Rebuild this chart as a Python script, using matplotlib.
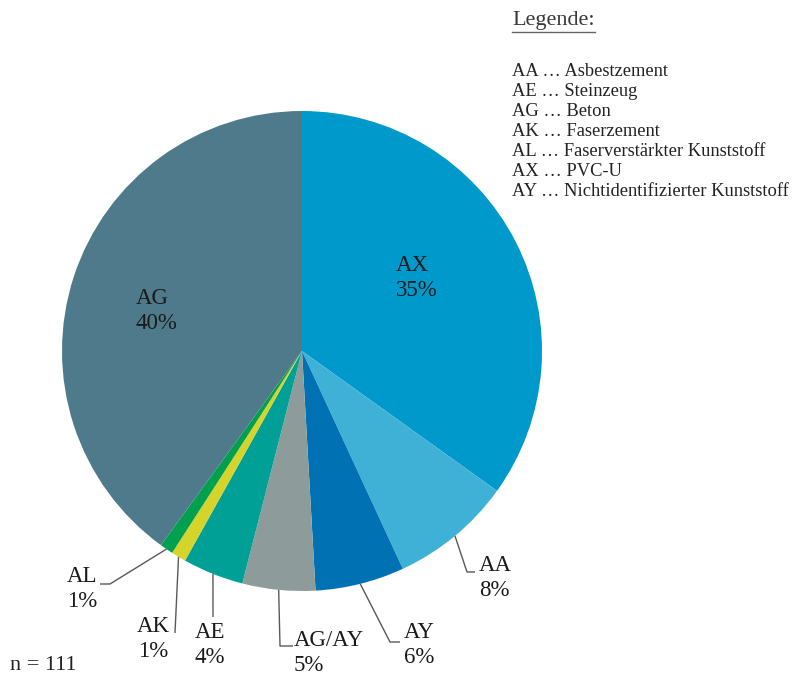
import numpy as np
import matplotlib
matplotlib.use("Agg")
import matplotlib.pyplot as plt

# ---- data ----
categories = ["AX", "AA", "AY", "AG/AY", "AE", "AK", "AL", "AG"]
values = [34.9, 8.2, 6.0, 4.9, 4.1, 1.0, 0.9, 40.0]
pct_labels = ["35%", "8%", "6%", "5%", "4%", "1%", "1%", "40%"]
colors = ["#0099CC", "#40B1D6", "#0072B4", "#8E9B9B", "#00A096",
          "#D4D42A", "#00A050", "#4E7A8B"]
legend_title = "Legende:"
legend_lines = [
    "AA \u2026 Asbestzement",
    "AE \u2026 Steinzeug",
    "AG \u2026 Beton",
    "AK \u2026 Faserzement",
    "AL \u2026 Faserverstärkter Kunststoff",
    "AX \u2026 PVC-U",
    "AY \u2026 Nichtidentifizierter Kunststoff",
]
n_text = "n = 111"

# ---- layout ----
W, H = 792, 684
def Y(y):
    return H - y

fig = plt.figure(figsize=(W / 100, H / 100), dpi=100)
ax = fig.add_axes([0, 0, 1, 1])
plt.rcParams["font.family"] = ["Liberation Serif", "DejaVu Serif"]
FONT = ["Liberation Serif", "DejaVu Serif"]

cx, cy, R = 302, 351, 240
wedges, _ = ax.pie(values, colors=colors, startangle=90, counterclock=False,
                   center=(cx, Y(cy)), radius=R,
                   wedgeprops=dict(linewidth=0, antialiased=True))
ax.set_xlim(0, W)
ax.set_ylim(0, H)
ax.set_aspect("equal")
ax.axis("off")

def mid_angle(w):
    return np.deg2rad((w.theta1 + w.theta2) / 2)

lab_fs = 16.5
LS = 1.3
lc = "#595959"
tc = "#1a1a1a"

# inside labels (AX, AG)
inside = {"AX": (396, 278), "AG": (136, 311)}
for i, c in enumerate(categories):
    if c in inside:
        x, y = inside[c]
        ax.text(x, Y(y), f"{c}\n{pct_labels[i]}", fontsize=lab_fs, family=FONT,
                ha="left", va="center", color=tc, linespacing=LS)

# outside labels with leader lines: (elbow point, end point, text pos, ha)
outside = {
    "AA":    ((467, 572), (475, 572), (479, 578), "left"),
    "AY":    ((390, 642), (400, 642), (404, 645), "left"),
    "AG/AY": ((280, 646), (293, 646), (294, 653), "left"),
    "AE":    ((213, 617), (213, 617), (210, 645), "center"),
    "AK":    ((175, 633), (175, 633), (153, 639), "center"),
    "AL":    ((110, 584), (100, 584), (82, 589), "center"),
}
for i, c in enumerate(categories):
    if c in outside:
        w = wedges[i]
        a = mid_angle(w)
        sx = cx + R * np.cos(a)
        sy = Y(cy) + R * np.sin(a)
        (ex, ey), (fx, fy), (tx, ty), ha = outside[c]
        ax.plot([sx, ex, fx], [sy, Y(ey), Y(fy)], color=lc, lw=1.0,
                solid_capstyle="butt")
        ax.text(tx, Y(ty), f"{c}\n{pct_labels[i]}", fontsize=lab_fs, family=FONT,
                ha=ha, va="center", color=tc, linespacing=LS,
                multialignment="center" if ha == "center" else "left")

# legend block
t = ax.text(512, Y(20), legend_title, fontsize=16, family=FONT, ha="left",
            va="center", color="#3a3a3a")
fig.canvas.draw()
bb = t.get_window_extent()
ax.plot([bb.x0, bb.x1], [Y(32), Y(32)], color="#666666", lw=1.0)
for k, line in enumerate(legend_lines):
    ax.text(512, Y(72 + 20 * k), line, fontsize=13.3, family=FONT,
            ha="left", va="center", color="#222222")

ax.text(10, Y(665), n_text, fontsize=16, family=FONT, ha="left", va="center",
        color="#222222")

fig.savefig("out.png", dpi=100)
